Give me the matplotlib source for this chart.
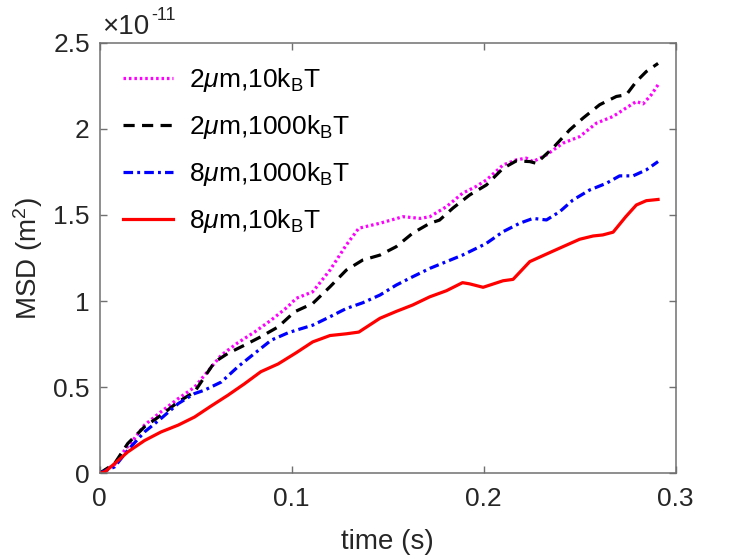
import matplotlib
matplotlib.use('Agg')
import matplotlib.pyplot as plt
from matplotlib.ticker import FuncFormatter

plt.rcParams['font.family'] = ['Liberation Sans', 'DejaVu Sans']
plt.rcParams['mathtext.fontset'] = 'custom'
plt.rcParams['mathtext.rm'] = 'Liberation Sans'
plt.rcParams['mathtext.it'] = 'Liberation Sans:italic'
plt.rcParams['mathtext.bf'] = 'Liberation Sans:bold'

# MSD values in units of 1e-11 m^2
t_mag = [0, 0.0078, 0.011, 0.018, 0.0234, 0.032, 0.041, 0.0495, 0.0547, 0.0634, 0.072, 0.0807,
         0.0894, 0.098, 0.1024, 0.111, 0.12, 0.1285, 0.135, 0.146, 0.158, 0.167, 0.172, 0.1806,
         0.189, 0.196, 0.2014, 0.2101, 0.217, 0.2222, 0.2257, 0.2327, 0.2413, 0.25, 0.2587,
         0.2674, 0.274, 0.2795, 0.283, 0.2873, 0.2908]
msd_mag = [0, 0.05, 0.105, 0.20, 0.28, 0.357, 0.434, 0.50, 0.57, 0.686, 0.758, 0.82,
           0.89, 0.967, 1.016, 1.054, 1.18, 1.326, 1.423, 1.452, 1.49, 1.48, 1.49, 1.548,
           1.626, 1.665, 1.703, 1.79, 1.82, 1.83, 1.81, 1.849, 1.917, 1.955, 2.033,
           2.072, 2.12, 2.159, 2.145, 2.198, 2.256]

t_blk = [0, 0.0078, 0.0147, 0.0234, 0.032, 0.041, 0.0495, 0.0547, 0.06, 0.0668, 0.0755, 0.084,
         0.093, 0.1016, 0.111, 0.12, 0.1285, 0.137, 0.146, 0.1545, 0.163, 0.172, 0.177, 0.184,
         0.1927, 0.2014, 0.2101, 0.217, 0.224, 0.2274, 0.236, 0.2448, 0.2517, 0.2604, 0.2691,
         0.2743, 0.2795, 0.2847, 0.2908]
msd_blk = [0, 0.056, 0.173, 0.27, 0.337, 0.415, 0.473, 0.56, 0.647, 0.696, 0.744, 0.793,
           0.85, 0.938, 0.986, 1.083, 1.18, 1.238, 1.267, 1.316, 1.394, 1.452, 1.47, 1.54,
           1.616, 1.674, 1.771, 1.814, 1.81, 1.80, 1.888, 1.994, 2.062, 2.14, 2.188,
           2.198, 2.275, 2.333, 2.38]

t_blu = [0, 0.0078, 0.0147, 0.0234, 0.032, 0.041, 0.0495, 0.0547, 0.0634, 0.072, 0.0807, 0.0894,
         0.098, 0.1024, 0.111, 0.12, 0.1285, 0.137, 0.146, 0.1545, 0.163, 0.172, 0.1806, 0.189,
         0.198, 0.2014, 0.2101, 0.2188, 0.2257, 0.2327, 0.2396, 0.2465, 0.2552, 0.2639, 0.2708,
         0.2778, 0.2847, 0.2908]
msd_blu = [0, 0.037, 0.134, 0.24, 0.318, 0.405, 0.463, 0.483, 0.53, 0.618, 0.696, 0.773,
           0.815, 0.831, 0.86, 0.909, 0.957, 0.99, 1.035, 1.093, 1.141, 1.19, 1.229, 1.267,
           1.316, 1.335, 1.403, 1.452, 1.48, 1.471, 1.519, 1.587, 1.645, 1.684, 1.727,
           1.727, 1.762, 1.81]

t_red = [0, 0.003, 0.0078, 0.0147, 0.0234, 0.032, 0.041, 0.0495, 0.058, 0.0668, 0.0755, 0.084,
         0.093, 0.1024, 0.111, 0.12, 0.1285, 0.135, 0.146, 0.1545, 0.163, 0.172, 0.1806, 0.189,
         0.1927, 0.1997, 0.2101, 0.2153, 0.224, 0.2327, 0.2413, 0.25, 0.257, 0.262, 0.2674,
         0.274, 0.2795, 0.2847, 0.2908]
msd_red = [0, 0.01, 0.056, 0.124, 0.19, 0.24, 0.28, 0.327, 0.39, 0.453, 0.52, 0.59,
           0.635, 0.70, 0.763, 0.80, 0.81, 0.82, 0.90, 0.94, 0.977, 1.025, 1.06, 1.107,
           1.10, 1.08, 1.118, 1.126, 1.229, 1.273, 1.316, 1.359, 1.378, 1.384, 1.40,
           1.49, 1.558, 1.583, 1.59]

labels = [r'2$\mu$m,10k$_\mathregular{B}$T', r'2$\mu$m,1000k$_\mathregular{B}$T',
          r'8$\mu$m,1000k$_\mathregular{B}$T', r'8$\mu$m,10k$_\mathregular{B}$T']

fig = plt.figure(figsize=(7.46, 5.6), dpi=100)
ax = fig.add_axes([0.1334, 0.1548, 0.7724, 0.7689])

lw = 2.3
ax.plot(t_mag, msd_mag, color='#FF00FF', lw=lw, ls=(0, (0.8, 0.9)), label=labels[0])
ax.plot(t_blk, msd_blk, color='black', lw=lw, ls=(0, (3.5, 2.3)), label=labels[1])
ax.plot(t_blu, msd_blu, color='#0000FF', lw=lw, ls=(0, (3.0, 1.3, 0.9, 1.3)), label=labels[2])
ax.plot(t_red, msd_red, color='#FF0000', lw=lw, ls='-', label=labels[3])

ax.set_xlim(0, 0.3)
ax.set_ylim(0, 2.5)
ax.set_xticks([0, 0.1, 0.2, 0.3])
ax.set_yticks([0, 0.5, 1, 1.5, 2, 2.5])
fmt = FuncFormatter(lambda v, p: '%g' % v)
ax.xaxis.set_major_formatter(fmt)
ax.yaxis.set_major_formatter(fmt)

ax.tick_params(direction='in', length=5, width=1, colors='#707070', labelcolor='#262626',
               labelsize=19, top=True, right=True)
ax.tick_params(axis='x', pad=10)
ax.tick_params(axis='y', pad=7)
for s in ax.spines.values():
    s.set_color('#707070')
    s.set_linewidth(1.1)

ax.set_xlabel('time (s)', fontsize=20, color='#262626', labelpad=13)
ax.set_ylabel(r'MSD (m$^\mathregular{2}$)', fontsize=20, color='#262626', labelpad=6)

# exponent label above the y axis, MATLAB style
base = ax.annotate('\u00d710', xy=(0, 1), xycoords='axes fraction', xytext=(2, 6),
                   textcoords='offset points', fontsize=20, color='#262626',
                   ha='left', va='baseline')
ax.annotate('-11', xy=(1, 0.62), xycoords=base, xytext=(1, 0), textcoords='offset points',
            fontsize=13, color='#262626', ha='left', va='bottom')

ax.legend(loc='upper left', frameon=False, fontsize=19, handlelength=1.9,
          handletextpad=0.6, labelspacing=0.72, borderaxespad=0.5)

fig.savefig('out.png', dpi=100)
